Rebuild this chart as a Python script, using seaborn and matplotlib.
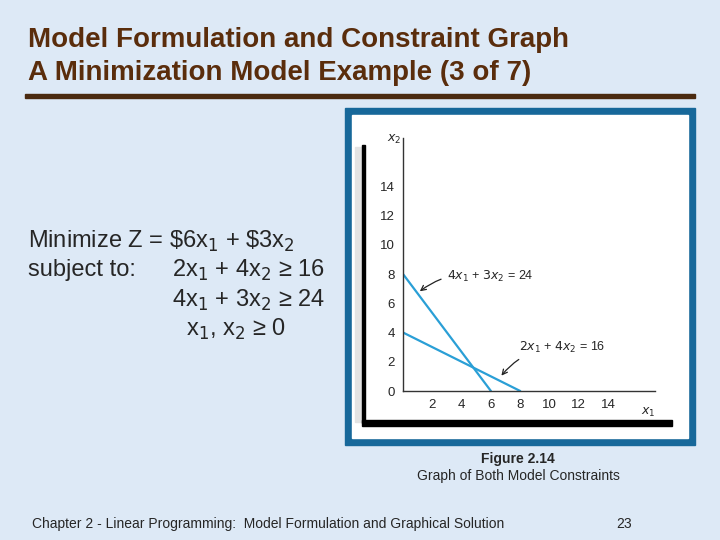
import matplotlib.pyplot as plt
import matplotlib.patches as mpatches
import pandas as pd
import seaborn as sns

# constraint line endpoints (x1, x2)
c1_x1 = [0, 6]
c1_x2 = [8, 0]
c2_x1 = [0, 8]
c2_x2 = [4, 0]
ticks = [2, 4, 6, 8, 10, 12, 14]
yticks = [0, 2, 4, 6, 8, 10, 12, 14]

df = pd.DataFrame({
    "x1": c1_x1 + c2_x1,
    "x2": c1_x2 + c2_x2,
    "c": ["4x1+3x2=24"] * 2 + ["2x1+4x2=16"] * 2,
})

sns.set_style("white")
plt.rcParams["font.family"] = ["Liberation Sans", "DejaVu Sans"]

fig = plt.figure(figsize=(7.2, 5.4), dpi=100)
fig.patch.set_facecolor("#dde9f6")

W, H = 720, 540


def rect(x, y, w, h, **kw):
    fig.add_artist(mpatches.Rectangle((x / W, 1 - (y + h) / H), w / W, h / H,
                                      transform=fig.transFigure, zorder=-5, **kw))


# slide decorations
fig.text(28 / W, 1 - 40 / H, "Model Formulation and Constraint Graph", fontsize=20,
         fontweight="bold", color="#5a2d0c", va="center")
fig.text(28 / W, 1 - 73 / H, "A Minimization Model Example (3 of 7)", fontsize=20,
         fontweight="bold", color="#5a2d0c", va="center")
rect(25, 94, 670, 4, color="#4a2a10")

fs = 17
fig.text(28 / W, 1 - 241 / H, "Minimize Z = \\$6x$_1$ + \\$3x$_2$", fontsize=fs, va="center")
fig.text(28 / W, 1 - 270 / H, "subject to:", fontsize=fs, va="center")
fig.text(172 / W, 1 - 270 / H, "2x$_1$ + 4x$_2$ \u2265 16", fontsize=fs, va="center")
fig.text(172 / W, 1 - 300 / H, "4x$_1$ + 3x$_2$ \u2265 24", fontsize=fs, va="center")
fig.text(186 / W, 1 - 329 / H, "x$_1$, x$_2$ \u2265 0", fontsize=fs, va="center")

# figure frame
rect(345, 108, 350, 337, color="#17689a")
rect(352, 115, 336, 323, color="white")
rect(355, 147, 7, 275, color="#e3e3e3")
rect(362, 420, 310, 6, color="black")
rect(362, 145, 3, 278, color="black")

fig.text(518 / W, 1 - 459 / H, "Figure 2.14", fontsize=10, fontweight="bold", ha="center", va="center")
fig.text(518 / W, 1 - 476 / H, "Graph of Both Model Constraints", fontsize=10, ha="center", va="center")
fig.text(32 / W, 1 - 524 / H, "Chapter 2 - Linear Programming:  Model Formulation and Graphical Solution",
         fontsize=10, va="center")
fig.text(624 / W, 1 - 524 / H, "23", fontsize=10, ha="center", va="center")

ax = fig.add_axes([403 / W, 1 - 391 / H, 252 / W, 253 / H])
ax.set_zorder(5)
ax.patch.set_alpha(0)
sns.lineplot(data=df, x="x1", y="x2", units="c", estimator=None, color="#2a9fd6",
             lw=1.6, ax=ax, legend=False)
ax.set_xlim(0, 17.2)
ax.set_ylim(0, 17.3)
ax.set_xticks(ticks)
ax.set_yticks(yticks)
ax.tick_params(labelsize=9.5, length=4, color="#444", direction="in", pad=6)
for s in ["top", "right"]:
    ax.spines[s].set_visible(False)
for s in ["left", "bottom"]:
    ax.spines[s].set_color("#333")
    ax.spines[s].set_linewidth(1)
ax.set_xlabel("")
ax.set_ylabel("")
ax.text(17.2, -1.5, "$x_1$", fontsize=9, ha="right", va="center", clip_on=False)
ax.text(-0.6, 17.2, "$x_2$", fontsize=9, ha="center", va="center", clip_on=False)

ax.annotate("$4x_1$ + $3x_2$ = 24", xy=(1.0, 6.7), xytext=(3.0, 7.8), fontsize=9,
            va="center", arrowprops=dict(arrowstyle="->", color="#222", connectionstyle="arc3,rad=0.25", lw=0.9))
ax.annotate("$2x_1$ + $4x_2$ = 16", xy=(6.6, 0.9), xytext=(7.9, 3.0), fontsize=9,
            va="center", arrowprops=dict(arrowstyle="->", color="#222", connectionstyle="arc3,rad=0.25", lw=0.9))

fig.savefig("out.png", dpi=100, facecolor=fig.get_facecolor())
